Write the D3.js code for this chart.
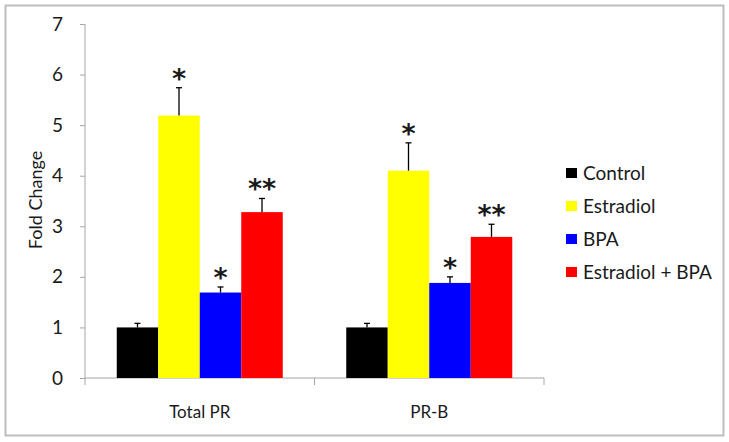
<!DOCTYPE html>
<html><head><meta charset="utf-8">
<script src="https://cdn.jsdelivr.net/npm/d3@7"></script>
<style>
body{margin:0;background:#fff;}
svg{display:block;}
text{font-family:Lato,"Open Sans",sans-serif;fill:#1a1a1a;}
</style></head>
<body>
<svg id="chart" width="729" height="442"></svg>
<script>
const categories = ["Total PR", "PR-B"];
const series = ["Control", "Estradiol", "BPA", "Estradiol + BPA"];
const colors = ["#000000", "#ffff00", "#0000ff", "#ff0000"];
const controlValues = [1.00, 1.00];
const estradiolValues = [5.19, 4.10];
const bpaValues = [1.69, 1.88];
const comboValues = [3.28, 2.79];
const controlErr = [0.08, 0.08];
const estradiolErr = [0.55, 0.55];
const bpaErr = [0.11, 0.12];
const comboErr = [0.27, 0.25];
const controlSig = ["", ""];
const estradiolSig = ["*", "*"];
const bpaSig = ["*", "*"];
const comboSig = ["**", "**"];
const yTicks = [0, 1, 2, 3, 4, 5, 6, 7];

const valuesBySeries = [controlValues, estradiolValues, bpaValues, comboValues];
const errBySeries = [controlErr, estradiolErr, bpaErr, comboErr];
const sigBySeries = [controlSig, estradiolSig, bpaSig, comboSig];

const data = [];
categories.forEach((c, ci) => {
  series.forEach((s, si) => {
    data.push({cat: c, ser: s, si, v: valuesBySeries[si][ci], e: errBySeries[si][ci], sig: sigBySeries[si][ci]});
  });
});

const svg = d3.select("#chart");
// outer frame
svg.append("rect").attr("x", 5.5).attr("y", 5.5).attr("width", 718).attr("height", 430)
  .attr("fill", "#fff").attr("stroke", "#bdbdbd").attr("stroke-width", 2);

const x0 = 85, x1 = 544, yTop = 24, yBot = 378;
const x = d3.scaleBand().domain(categories).range([x0, x1]).paddingInner(0).paddingOuter(0);
const xInner = d3.scaleBand().domain(series).range([0, x.bandwidth()]).paddingOuter(0.765).paddingInner(0);
const y = d3.scaleLinear().domain([0, 7]).range([yBot, yTop]);

const axisColor = "#a6a6a6";
// y axis
const yAxis = svg.append("g").attr("transform", `translate(${x0},0)`)
  .call(d3.axisLeft(y).tickValues(yTicks).tickSize(5).tickPadding(17).tickFormat(d3.format("d")));
yAxis.select(".domain").attr("stroke", axisColor).attr("d", `M0,${yTop}V${yBot + 7}`);
yAxis.selectAll(".tick line").attr("stroke", axisColor);
yAxis.selectAll(".tick text").style("font-size", "19px").attr("fill", "#1a1a1a");

// x axis
const xAxis = svg.append("g").attr("transform", `translate(0,${yBot})`)
  .call(d3.axisBottom(x).tickSize(0).tickPadding(28));
xAxis.select(".domain").attr("stroke", axisColor).attr("d", `M${x0},0H${x1}`);
xAxis.selectAll(".tick text").style("font-size", "17px").attr("fill", "#1a1a1a");
// boundary ticks
const bounds = categories.map(c => x(c) + x.bandwidth());
xAxis.selectAll("line.bnd").data(bounds).enter().append("line").attr("class", "bnd")
  .attr("x1", d => d).attr("x2", d => d).attr("y1", 0).attr("y2", 7).attr("stroke", axisColor);

// bars
const g = svg.append("g");
g.selectAll("rect.bar").data(data).enter().append("rect").attr("class", "bar")
  .attr("x", d => x(d.cat) + xInner(d.ser))
  .attr("width", xInner.bandwidth())
  .attr("y", d => y(d.v))
  .attr("height", d => y(0) - y(d.v))
  .attr("fill", d => colors[d.si]);

// error bars (upper only)
const cx = d => x(d.cat) + xInner(d.ser) + xInner.bandwidth() / 2;
g.selectAll("line.err").data(data).enter().append("line").attr("class", "err")
  .attr("x1", cx).attr("x2", cx).attr("y1", d => y(d.v)).attr("y2", d => y(d.v + d.e))
  .attr("stroke", "#000").attr("stroke-width", 1.3);
g.selectAll("line.cap").data(data).enter().append("line").attr("class", "cap")
  .attr("x1", d => cx(d) - 3).attr("x2", d => cx(d) + 3).attr("y1", d => y(d.v + d.e)).attr("y2", d => y(d.v + d.e))
  .attr("stroke", "#000").attr("stroke-width", 1.3);

// significance markers
g.selectAll("text.sig").data(data.filter(d => d.sig)).enter().append("text").attr("class", "sig")
  .attr("x", cx).attr("y", d => y(d.v + d.e))
  .attr("text-anchor", "middle")
  .style("font-family", "'DejaVu Sans',sans-serif").style("font-weight", "bold").style("font-size", "27px")
  .attr("fill", "#000")
  .text(d => d.sig);

// y axis title
svg.append("text").attr("transform", `translate(42,200) rotate(-90)`)
  .attr("text-anchor", "middle").style("font-size", "18px").text("Fold Change");

// legend
const lg = svg.append("g").attr("transform", "translate(566,180)");
const items = lg.selectAll("g").data(series).enter().append("g")
  .attr("transform", (d, i) => `translate(0,${i * 33})`);
items.append("rect").attr("x", 0).attr("y", -12).attr("width", 11).attr("height", 10)
  .attr("fill", (d, i) => colors[i]);
items.append("text").attr("x", 17).attr("y", 0).style("font-size", "19px").text(d => d);
</script>
</body></html>
